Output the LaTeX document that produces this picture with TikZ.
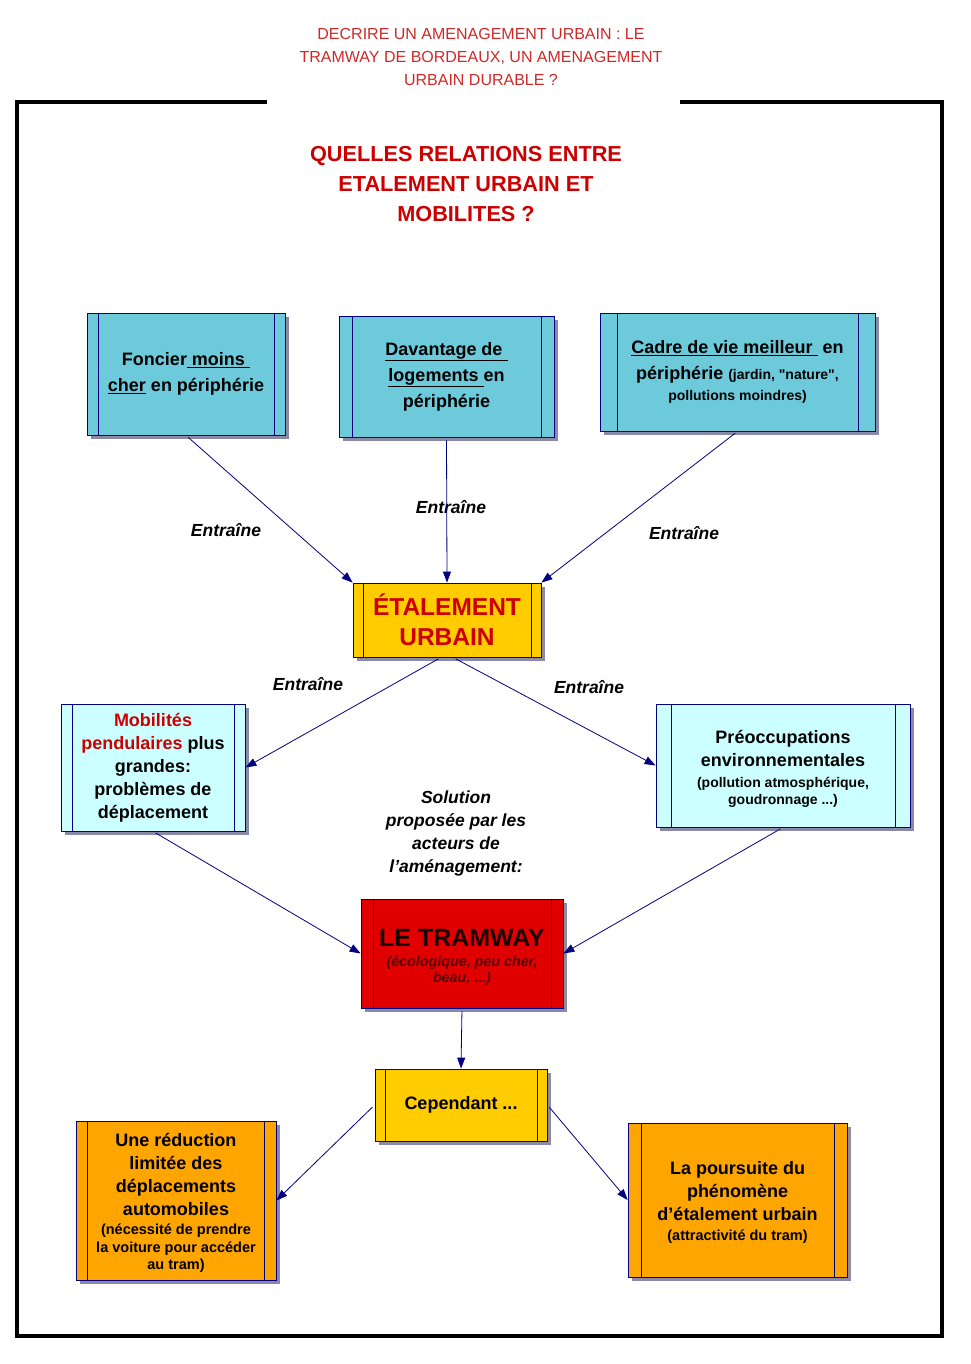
\documentclass[tikz,border=0pt]{standalone}
\usepackage{fontspec}
\setmainfont{Liberation Sans}
\usetikzlibrary{arrows.meta,shadows}

\definecolor{navy}{HTML}{000080}
\definecolor{sky}{HTML}{6DCADB}
\definecolor{pale}{HTML}{CCFFFF}
\definecolor{gold}{HTML}{FFCC00}
\definecolor{amber}{HTML}{FFA500}
\definecolor{tramred}{HTML}{E00000}
\definecolor{shade}{HTML}{8A8AA8}
\definecolor{titlered}{HTML}{CC0000}
\definecolor{headred}{HTML}{D02828}
\definecolor{darkred}{HTML}{5A0000}

\newcommand{\mainsize}{\fontsize{18}{23}\selectfont}
\newcommand{\smallsize}{\fontsize{14.5}{17.5}\selectfont}

\begin{document}
\begin{tikzpicture}[x=1pt,y=-1pt,>={Triangle[length=11pt,width=8pt]},
    box/.style={rectangle,draw=navy,line width=0.8pt,inner sep=0pt,align=flush center,
                font=\bfseries\mainsize,
                drop shadow={shadow xshift=4pt,shadow yshift=-4pt,fill=shade,opacity=1}},
    dim/.style 2 args={text width=#1,minimum height=#2},
    sides/.style={path picture={\draw[navy,line width=0.8pt]
        ([xshift=#1]path picture bounding box.north west) -- ([xshift=#1]path picture bounding box.south west)
        ([xshift=-#1]path picture bounding box.north east) -- ([xshift=-#1]path picture bounding box.south east);}},
    link/.style={->,navy,line width=0.8pt,shorten <=3pt},
    lbl/.style={font=\bfseries\itshape\fontsize{17.5}{23}\selectfont,inner sep=0pt,align=center}]
\useasboundingbox (0,0) rectangle (970,1364);

% Titles and frame
\node[font=\fontsize{16}{23}\selectfont,text=headred,align=center] (title) at (481,57)
    {DECRIRE UN AMENAGEMENT URBAIN : LE\\TRAMWAY DE BORDEAUX, UN AMENAGEMENT\\URBAIN DURABLE ?};
\draw[line width=4pt] (267,102) -- (17,102) -- (17,1336) -- (942,1336) -- (942,102) -- (680,102);
\node[font=\bfseries\fontsize{21.7}{30}\selectfont,text=titlered,align=center] (question) at (466,184)
    {QUELLES RELATIONS ENTRE\\ETALEMENT URBAIN ET\\MOBILITES ?};

% Causes
\node[box,fill=sky,dim={198pt}{122pt},sides=11pt,font=\bfseries\fontsize{18}{26}\selectfont] (foncier) at (186,374)
    {Foncier\underline{ moins }\\\underline{cher} en périphérie};
\node[box,fill=sky,dim={215pt}{121pt},sides=13pt,font=\bfseries\fontsize{18}{26}\selectfont] (logements) at (446.5,376.5)
    {\underline{Davantage de }\\\underline{logements }en\\périphérie};
\node[box,fill=sky,dim={275pt}{118pt},sides=17pt,font=\bfseries\fontsize{18}{26}\selectfont] (cadre) at (737.5,372)
    {\underline{Cadre de vie meilleur }\ en\\périphérie {\fontsize{14}{17}\selectfont(jardin, \textquotedbl nature\textquotedbl,}\\[-5pt]
     {\fontsize{14}{17}\selectfont pollutions moindres)}};

% Centre
\node[box,fill=gold,dim={188pt}{74pt},sides=10pt,text=titlered,font=\bfseries\fontsize{24.5}{30}\selectfont] (etalement) at (447,620)
    {ÉTALEMENT\\URBAIN};

% Consequences
\node[box,fill=pale,dim={184pt}{127pt},sides=11pt] (mobilites) at (153,767.5)
    {\textcolor{titlered}{Mobilités}\\\textcolor{titlered}{pendulaires} plus\\grandes:\\problèmes de\\déplacement};
\node[box,fill=pale,dim={254pt}{123pt},sides=15pt] (preoc) at (783,765.5)
    {\rule{0pt}{19pt}Préoccupations\\environnementales\par\vspace{4pt}\fontsize{14}{17}\selectfont(pollution atmosphérique,\\goudronnage ...)\par};

% Solution
\node[box,fill=tramred,dim={202pt}{109pt},sides=12pt,text=black!90!red] (tramway) at (462,953.5)
    {\rule{0pt}{24pt}\fontsize{25}{28}\selectfont LE TRAMWAY\par\vspace{4pt}
     \fontsize{14.3}{16}\selectfont\bfseries\itshape\color{darkred}(écologique, peu cher,\\beau, ...)\par};
\node[box,fill=gold,dim={172pt}{72pt},sides=10pt] (cependant) at (461,1105) {Cependant ...};

% Limits
\node[box,fill=amber,dim={200pt}{159pt},sides=11.5pt] (reduction) at (176,1200.5)
    {\rule{0pt}{18pt}Une réduction\\limitée des\\déplacements\\automobiles\par\vspace{2pt}
     \smallsize(nécessité de prendre\\la voiture pour accéder\\au tram)\par};
\node[box,fill=amber,dim={219pt}{154pt},sides=13pt] (poursuite) at (737.5,1200)
    {\rule{0pt}{18pt}La poursuite du\\phénomène\\d'étalement urbain\par\vspace{3pt}\smallsize(attractivité du tram)\par};

% Labels
\node[lbl] (lfoncier) at (226,530) {Entraîne};
\node[lbl] (llogements) at (451,507) {Entraîne};
\node[lbl] (lcadre) at (684,533) {Entraîne};
\node[lbl] (lmobilites) at (308,684) {Entraîne};
\node[lbl] (lpreoc) at (589,687) {Entraîne};
\node[lbl] (solution) at (456,833) {Solution\\proposée par les\\acteurs de\\l'aménagement:};

% Connectors
\draw[link] (foncier.south) -- (etalement.north west);
\draw[link] (logements.south) -- (etalement.north);
\draw[link] (cadre.south) -- (etalement.north east);
\draw[link] ([xshift=-6pt]etalement.south) -- (mobilites.east);
\draw[link] ([xshift=6pt]etalement.south) -- (preoc.west);
\draw[link] (mobilites.south) -- (tramway.west);
\draw[link] (preoc.south) -- (tramway.east);
\draw[link] (tramway.south) -- (cependant.north);
\draw[link] (cependant.west) -- (reduction.east);
\draw[link] (cependant.east) -- (poursuite.west);
\end{tikzpicture}
\end{document}
